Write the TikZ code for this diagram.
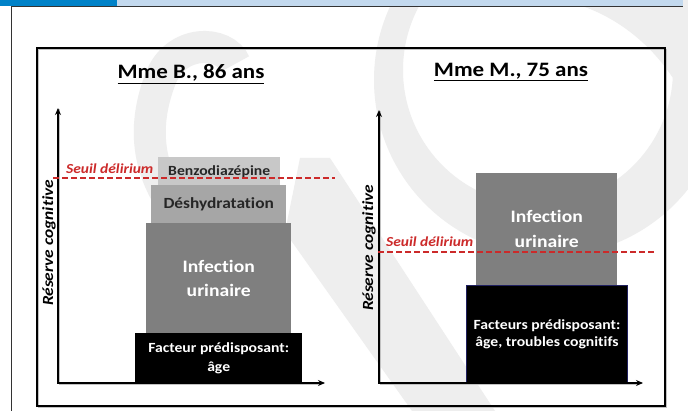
\documentclass[tikz,border=0pt]{standalone}
\usepackage{fontspec}
\setmainfont[FakeStretch=1.12,Ligatures=NoCommon]{Carlito}
\usetikzlibrary{arrows.meta}
\definecolor{bandblue}{HTML}{0082C8}
\definecolor{bandlight}{HTML}{C3D9EE}
\definecolor{seuilred}{HTML}{CC2A2A}
\definecolor{boxlight}{HTML}{C8C8C8}
\definecolor{boxmid}{HTML}{A6A6A6}
\definecolor{boxdark}{HTML}{7F7F7F}
\definecolor{navyedge}{HTML}{202060}
\definecolor{shade}{HTML}{9A9A9A}
\definecolor{emblemgray}{HTML}{EEEEEE}
\tikzset{
  stackbox/.style={anchor=north west, inner sep=0pt, align=center, font=\bfseries},
  axisline/.style={line width=1.5pt, {Stealth[length=7pt,width=6pt]}-{Stealth[length=7pt,width=6pt]}},
  axisshadow/.style={line width=1.5pt, draw=shade!60},
  seuil/.style={draw=seuilred, line width=1.3pt, dash pattern=on 6pt off 3pt},
  seuiltext/.style={text=seuilred, font=\fontsize{13.8}{16}\selectfont\bfseries\itshape, anchor=base west, inner sep=0pt},
  ylabel/.style={rotate=90, font=\fontsize{15.5}{18}\selectfont\bfseries\itshape, inner sep=0pt},
  paneltitle/.style={font=\fontsize{20.5}{24}\selectfont\bfseries, inner sep=0pt},
}
\begin{document}
\begin{tikzpicture}[x=1pt,y=-1pt]
\useasboundingbox (0,0) rectangle (688,411);
\fill[white] (0,0) rectangle (688,411);

% faint background emblem
\begin{scope}
  \clip (0,0) rectangle (688,411);
  % ring on the right
  \fill[emblemgray, even odd rule] (550,80) circle [radius=176]
                                   (538,70) circle [radius=135];
  % upper right swoosh
  \fill[emblemgray] (560,0) .. controls (620,12) and (665,55) .. (688,105) -- (688,0) -- cycle;
  % hook on the left
  \draw[emblemgray, line width=32pt] (235,64) .. controls (225,40) and (175,38) .. (160,80)
                                     .. controls (145,120) and (145,160) .. (170,200);
  % diagonal band
  \fill[emblemgray] (300,158) -- (330,158) -- (495,411) -- (412,411) -- (285,232) -- cycle;
\end{scope}

% header band and page rule
\fill[bandblue] (0,0) rectangle (117,6);
\fill[bandlight] (117,0) rectangle (683,6);
\draw[line width=0.8pt, black!80] (11,6.4) -- (683,6.4);
\draw[line width=0.8pt, black!80] (11,6.4) -- (11,411);

% outer frame with shadow
\draw[line width=1.5pt, shade!60] (38.5,49.5) rectangle (666.5,407.5);
\draw[line width=1.5pt] (37,48) rectangle (665,406);

% ---------- left panel ----------
\node[paneltitle] (titleB) at (191,74) {\underline{Mme B., 86 ans}};

\node[stackbox, fill=boxlight, minimum width=122pt, minimum height=28pt,
      font=\fontsize{14}{16}\selectfont\bfseries, text=black!85] (benzo) at (158,157) {Benzodiazépine};
\node[stackbox, fill=boxmid, minimum width=135pt, minimum height=38pt,
      font=\fontsize{15.5}{18}\selectfont\bfseries, text=black!85] (deshy) at (151,185) {Déshydratation};
\node[stackbox, fill=boxdark, minimum width=145pt, minimum height=110pt,
      font=\fontsize{17.5}{24}\selectfont\bfseries, text=white] (infB) at (146,223) {Infection\\urinaire};
\node[stackbox, fill=black, minimum width=167pt, minimum height=50pt,
      font=\fontsize{14}{19}\selectfont\bfseries, text=white] (factB) at (135,333) {Facteur prédisposant:\\âge};

\coordinate (oB) at (58,383);
\coordinate (yB) at (58,108);
\coordinate (xB) at (325,383);
\draw[axisshadow] ([shift={(1.5,1.5)}]yB) -- ([shift={(1.5,1.5)}]oB) -- ([shift={(-4,1.5)}]xB);
\draw[axisline] (yB) -- (oB) -- (xB);
\node[ylabel] (ylabB) at (49,243) {Réserve cognitive};

\coordinate (sB1) at (53,178);
\coordinate (sB2) at (335,178);
\draw[seuil] (sB1) -- (sB2);
\node[seuiltext] (seuilB) at (66,174) {Seuil délirium};

% ---------- right panel ----------
\node[paneltitle] (titleM) at (511,72) {\underline{Mme M., 75 ans}};

\node[stackbox, fill=boxdark, minimum width=141pt, minimum height=112pt,
      font=\fontsize{17.5}{25}\selectfont\bfseries, text=white] (infM) at (476,173) {Infection\\urinaire};
\node[stackbox, fill=black, draw=navyedge, line width=1pt, minimum width=161pt, minimum height=98pt,
      font=\fontsize{14}{17}\selectfont\bfseries, text=white] (factM) at (466,285) {Facteurs prédisposant:\\âge, troubles cognitifs};

\coordinate (oM) at (379,383);
\coordinate (yM) at (379,110);
\coordinate (xM) at (643,383);
\draw[axisshadow] ([shift={(1.5,1.5)}]yM) -- ([shift={(1.5,1.5)}]oM) -- ([shift={(-4,1.5)}]xM);
\draw[axisline] (yM) -- (oM) -- (xM);
\node[ylabel] (ylabM) at (369,248) {Réserve cognitive};

\coordinate (sM1) at (378,252);
\coordinate (sM2) at (655,252);
\draw[seuil] (sM1) -- (sM2);
\node[seuiltext] (seuilM) at (386,247) {Seuil délirium};
\end{tikzpicture}
\end{document}
